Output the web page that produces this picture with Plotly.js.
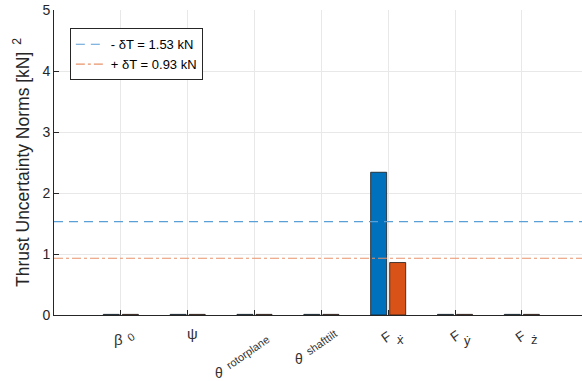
<!DOCTYPE html>
<html>
<head>
<meta charset="utf-8">
<script src="https://cdn.plot.ly/plotly-3.0.1.min.js"></script>
<style>html,body{margin:0;padding:0;background:#fff;}#chart{width:582px;height:381px;}</style>
</head>
<body>
<div id="chart"></div>
<script>
// ---- data ----
const categoryPositions = [1, 2, 3, 4, 5, 6, 7];
const tickSymbols    = ['β', 'ψ', 'θ', 'θ', 'F', 'F', 'F'];
const tickSubscripts = ['0', '', 'rotorplane', 'shafttilt', 'ẋ', 'ẏ', 'ż'];
const minusNorms = [0.01, 0.01, 0.01, 0.01, 2.34, 0.01, 0.01];
const plusNorms  = [0.01, 0.01, 0.01, 0.01, 0.86, 0.01, 0.01];
const minusThreshold = 1.53;
const plusThreshold = 0.93;
const lineSpan = [0, 8];

// ---- label placement (pixel offsets from each tick at y = 0) ----
const symbolOffsets = [[-2, -24], [5, -18], [-35.5, -58], [-22.4, -44], [-2, -22], [0, -21], [-1, -21]];
const subOffsets    = [[10, -22], [0, 0], [-6.5, -37], [0.6, -27], [12, -24], [12, -25], [13, -24]];
const symbolSizes   = [15, 15, 14, 14, 14, 14, 14];
const subSizes      = [11, 11, 11, 11, 13, 13, 13];

const isAscii = s => /^[\x00-\x7F]*$/.test(s);
const annotations = [];
categoryPositions.forEach((pos, i) => {
  const parts = [[tickSymbols[i], symbolOffsets[i], symbolSizes[i]], [tickSubscripts[i], subOffsets[i], subSizes[i]]];
  parts.forEach(([txt, off, size]) => {
    if (!txt) return;
    annotations.push({
      x: pos, y: 0, xref: 'x', yref: 'y', text: txt, showarrow: false,
      textangle: isAscii(txt) ? -35 : 0,
      xanchor: 'center', yanchor: 'middle', xshift: off[0], yshift: off[1],
      font: {family: 'Liberation Sans, DejaVu Sans, sans-serif', size: size, color: '#333'}
    });
  });
});

const traces = [
  {type: 'bar', x: categoryPositions, y: minusNorms, marker: {color: '#0072BD', line: {color: '#1a1a1a', width: 0.8}}, showlegend: false, hoverinfo: 'skip'},
  {type: 'bar', x: categoryPositions, y: plusNorms, marker: {color: '#D95319', line: {color: '#1a1a1a', width: 0.8}}, showlegend: false, hoverinfo: 'skip'},
  {type: 'scatter', mode: 'lines', x: lineSpan, y: [minusThreshold, minusThreshold], name: '- δT = ' + minusThreshold.toFixed(2) + ' kN', line: {color: '#5a9fd6', width: 1.2, dash: '9px,6px'}},
  {type: 'scatter', mode: 'lines', x: lineSpan, y: [plusThreshold, plusThreshold], name: '+ δT = ' + plusThreshold.toFixed(2) + ' kN', line: {color: '#e8936a', width: 1.2, dash: 'dashdot'}}
];

const layout = {
  width: 582, height: 381,
  margin: {l: 54, r: 0, t: 10, b: 66},
  paper_bgcolor: '#fff', plot_bgcolor: '#fff',
  font: {family: 'Liberation Sans, Arial, sans-serif', size: 13, color: '#262626'},
  barmode: 'group', bargap: 0.43, bargroupgap: 0.16,
  xaxis: {
    range: [0, 7.9], tickvals: categoryPositions, showticklabels: false,
    showgrid: true, gridcolor: '#e8e8e8', zeroline: false,
    showline: true, linecolor: '#262626', linewidth: 1,
    ticks: 'inside', ticklen: 5, tickcolor: '#262626'
  },
  yaxis: {
    range: [0, 5], dtick: 1, tick0: 0,
    showgrid: true, gridcolor: '#e8e8e8', zeroline: false,
    showline: true, linecolor: '#262626', linewidth: 1,
    ticks: 'inside', ticklen: 5, tickcolor: '#262626',
    tickfont: {size: 14, color: '#262626'},
    title: {text: 'Thrust Uncertainty Norms [kN]<sup>  2</sup>', font: {size: 17.5, color: '#262626'}, standoff: 8}
  },
  annotations: annotations,
  legend: {
    x: 0.03, y: 0.94, xanchor: 'left', yanchor: 'top',
    bgcolor: '#fff', bordercolor: '#262626', borderwidth: 1,
    font: {size: 13, color: '#000'}, tracegroupgap: 0
  },
  showlegend: true
};

Plotly.newPlot('chart', traces, layout, {displayModeBar: false});
</script>
</body>
</html>
